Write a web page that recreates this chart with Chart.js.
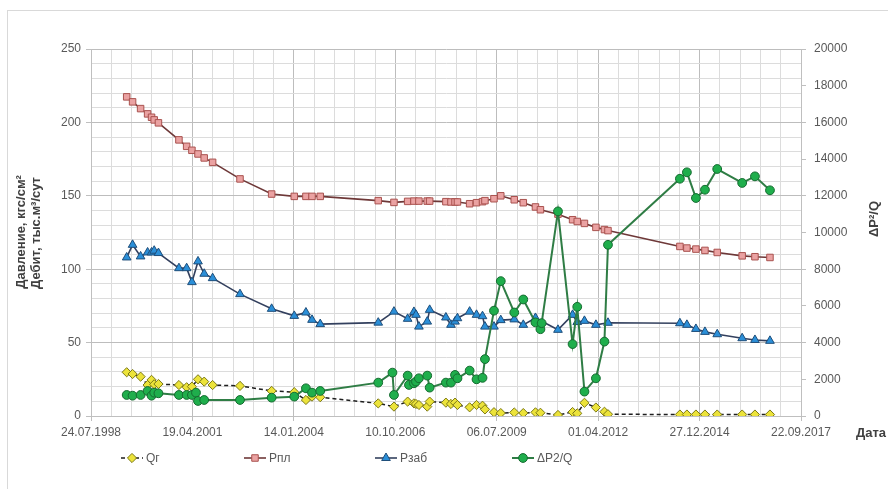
<!DOCTYPE html>
<html lang="ru">
<head>
<meta charset="utf-8">
<title>Давление, дебит и ΔP²/Q</title>
<script src="https://cdn.jsdelivr.net/npm/chart.js@4.4.1/dist/chart.umd.min.js"></script>
<style>
  html, body { margin: 0; padding: 0; background: #fff; }
  #wrap { width: 888px; height: 489px; }
  canvas { display: block; }
</style>
</head>
<body>
<div id="wrap"><canvas id="c" width="888" height="489"></canvas></div>
<script>
// Measurement dates (ISO)
const dates = [
  '1999-07-11','1999-09-07','1999-11-25','2000-02-02','2000-03-12','2000-04-07','2000-05-19','2000-12-07','2001-02-21','2001-04-14',
  '2001-05-24','2001-06-13','2001-08-13','2001-11-04','2002-08-01','2003-06-09','2004-01-18','2004-05-12','2004-07-11','2004-09-30',
  '2006-04-25','2006-09-12','2006-09-27','2007-02-09','2007-02-22','2007-04-12','2007-05-02','2007-05-31','2007-08-21','2007-09-14',
  '2008-02-21','2008-04-11','2008-05-21','2008-06-14','2008-10-12','2008-12-19','2009-02-16','2009-03-12','2009-06-09','2009-08-15',
  '2009-12-26','2010-03-25','2010-07-23','2010-09-10','2010-09-22','2011-03-02','2011-07-24','2011-09-08','2011-11-18','2012-03-10',
  '2012-06-02','2012-07-07','2014-06-16','2014-08-24','2014-11-21','2015-02-18','2015-06-19','2016-02-20','2016-06-25','2016-11-20'
];

// Gas rate Qг, тыс.м³/сут
const qGas = [
  29.8, 28.6, 26.8, 21.1, 24.6, 21.6, 21.8, 21.1, 19.6, 20,
  null, 25, 23.4, 21.1, 20.5, 17.1, 16.2, 10.9, 13.2, 12.8,
  8.6, null, 6.4, 9.8, null, 8.6, 8.2, 7.5, 6.4, 9.8,
  9.1, 8.2, 9.1, 7.5, 5.9, 7.5, 7, 4.5, 2.6, 2,
  2.4, 2, 2.5, 2.2, null, 0.7, 2.7, 1.8, 9, 5.8,
  2.9, 1.2, 1, 1, 1, 1, 1, 1, 1, 1
];

// Reservoir pressure Рпл, кгс/см²
const pPlast = [
  217.4, 214, 209.4, 205.8, 203.5, 201.7, 199.7, 188.1, 183.7, 181,
  null, 178.5, 175.8, 172.8, 161.5, 151.2, 149.6, 149.6, 149.6, 149.6,
  146.7, null, 145.5, 146.2, null, 146.4, null, 146.4, 146.4, 146.4,
  146, 145.8, 145.8, 145.8, 144.6, 145.3, 146, 146.7, 148, 150,
  147.3, 145.3, 142.4, 140.5, null, 137.5, 133.7, 132.5, 131.2, 128.5,
  127, 126.3, 115.5, 114.4, 113.7, 112.8, 111.4, 109.1, 108.5, 108
];

// Bottomhole pressure Рзаб, кгс/см²
const pZab = [
  108, 116.6, 108.7, 111.4, 111.4, 112.6, 111, 100.7, 100.7, 91.2,
  null, 105.3, 96.9, 93.9, 83, 73, 68.2, 70.5, 65.5, 62.6,
  63.6, null, 71.1, 66.2, null, 70.9, 68.9, 60.9, 64.3, 72.3,
  67.1, 62.1, 64.3, 66.6, 71.1, 68.9, 68, 60.9, 60.9, 65.3,
  65.8, 62.1, 66.8, null, null, 58.7, 68.9, 64, 64.8, 62.1,
  null, 63.5, 63.2, 62.1, 59.3, 57.3, 55.7, 53, 51.8, 51.2
];

// ΔP²/Q (right axis)
const dp2q = [
  1146, 1108, 1146, 1364, 1108, 1273, 1237, 1146, 1146, 1146,
  1273, 819, 873, null, 873, 1000, 1055, 1510, 1273, 1364,
  1819, 2364, 1146, 2200, 1692, 1783, 1874, 2055, 2200, 1546,
  1819, 1819, 2237, 2055, 2474, 2000, 2080, 3100, 5740, 7350,
  5640, 6350, 5100, 4730, 5060, 11150, 3920, 5950, 1330, 2055,
  4055, 9330, 12930, 13280, 11880, 12330, 13460, 12700, 13060, 12300
];

// Axis tick labels
const xTickLabels = ['24.07.1998','19.04.2001','14.01.2004','10.10.2006','06.07.2009','01.04.2012','27.12.2014','22.09.2017'];
const yLeftTicks = [0, 50, 100, 150, 200, 250];
const yRightTicks = [0, 2000, 4000, 6000, 8000, 10000, 12000, 14000, 16000, 18000, 20000];

// Dates are plotted as spreadsheet-style day serials (1899-12-30 = 0)
const isoToSerial = s => { const [y, m, d] = s.split('-').map(Number); return Date.UTC(y, m - 1, d) / 86400000 + 25569; };
const ruToSerial = s => { const [d, m, y] = s.split('.').map(Number); return Date.UTC(y, m - 1, d) / 86400000 + 25569; };
const majorX = xTickLabels.map(ruToSerial);
const xs = dates.map(isoToSerial);
const pts = arr => arr.map((v, i) => ({ x: xs[i], y: v }));

const FONT = '"Liberation Sans", Arial, sans-serif';
const TICK_COL = '#595959';
const GRID_MAJOR = '#bdbdbd';
const GRID_MINOR = '#dcdcdc';

const series = [
  { label: 'Qг', data: pts(qGas), yAxisID: 'y', order: 3,
    borderColor: '#1e1e1e', borderWidth: 1.5, borderDash: [4, 3],
    pointStyle: 'rectRot', pointRadius: 4.6, pointBackgroundColor: '#ece33a', pointBorderColor: '#7d7a16', pointBorderWidth: 1 },
  { label: 'Рпл', data: pts(pPlast), yAxisID: 'y', order: 2,
    borderColor: '#6e3838', borderWidth: 1.6,
    pointStyle: 'rect', pointRadius: 4.6, pointBackgroundColor: '#eaa2a2', pointBorderColor: '#a9524f', pointBorderWidth: 1 },
  { label: 'Рзаб', data: pts(pZab), yAxisID: 'y', order: 1,
    borderColor: '#33405e', borderWidth: 1.6,
    pointStyle: 'triangle', pointRadius: 5, pointBackgroundColor: '#2b8fd8', pointBorderColor: '#1f4e7a', pointBorderWidth: 1 },
  { label: 'ΔP2/Q', data: pts(dp2q), yAxisID: 'y2', order: 0,
    borderColor: '#2f7d45', borderWidth: 2,
    pointStyle: 'circle', pointRadius: 4.4, pointBackgroundColor: '#1fae4c', pointBorderColor: '#156b30', pointBorderWidth: 1 }
];

function marker(ctx, style, x, y, r) {
  ctx.beginPath();
  if (style === 'circle') {
    ctx.arc(x, y, r, 0, Math.PI * 2);
  } else if (style === 'rect') {
    const s = Math.SQRT1_2 * r;
    ctx.rect(x - s, y - s, 2 * s, 2 * s);
  } else if (style === 'rectRot') {
    ctx.moveTo(x - r, y); ctx.lineTo(x, y - r); ctx.lineTo(x + r, y); ctx.lineTo(x, y + r);
  } else if (style === 'triangle') {
    let a = 0;
    ctx.moveTo(x + Math.sin(a) * r, y - Math.cos(a) * r);
    a += 2 * Math.PI / 3; ctx.lineTo(x + Math.sin(a) * r, y - Math.cos(a) * r);
    a += 2 * Math.PI / 3; ctx.lineTo(x + Math.sin(a) * r, y - Math.cos(a) * r);
  }
  ctx.closePath();
  ctx.fill();
  ctx.stroke();
}

const decor = {
  id: 'decor',
  beforeDraw(chart) {
    const { ctx, width, height } = chart;
    ctx.save();
    ctx.fillStyle = '#ffffff';
    ctx.fillRect(0, 0, width, height);
    ctx.strokeStyle = '#d9d9d9';
    ctx.lineWidth = 1;
    ctx.strokeRect(7.5, 10.5, width + 10, height + 10);
    ctx.restore();
  },
  afterDraw(chart) {
    const { ctx } = chart;
    ctx.save();
    ctx.fillStyle = '#404040';
    ctx.font = 'bold 13px ' + FONT;
    ctx.textAlign = 'center';
    ctx.textBaseline = 'middle';
    // left axis title, two lines
    ctx.save();
    ctx.translate(21, 232);
    ctx.rotate(-Math.PI / 2);
    ctx.fillText('Давление, кгс/см²', 0, 0);
    ctx.restore();
    ctx.save();
    ctx.translate(36, 233);
    ctx.rotate(-Math.PI / 2);
    ctx.fillText('Дебит, тыс.м³/сут', 0, 0);
    ctx.restore();
    // right axis title
    ctx.save();
    ctx.translate(874, 219);
    ctx.rotate(-Math.PI / 2);
    ctx.fillText('ΔP²/Q', 0, 0);
    ctx.restore();
    // x axis title
    ctx.fillText('Дата', 871, 433);

    // legend
    const legendX = [121, 244, 375, 512];
    const ly = 458;
    ctx.font = '12px ' + FONT;
    ctx.textAlign = 'left';
    series.forEach((s, i) => {
      const x0 = legendX[i];
      ctx.strokeStyle = s.borderColor;
      ctx.lineWidth = s.borderWidth;
      ctx.setLineDash(s.borderDash || []);
      ctx.beginPath();
      ctx.moveTo(x0, ly); ctx.lineTo(x0 + 22, ly);
      ctx.stroke();
      ctx.setLineDash([]);
      ctx.fillStyle = s.pointBackgroundColor;
      ctx.strokeStyle = s.pointBorderColor;
      ctx.lineWidth = 1;
      marker(ctx, s.pointStyle, x0 + 11, ly, s.pointRadius);
      ctx.fillStyle = TICK_COL;
      ctx.fillText(s.label, x0 + 25, ly + 1);
    });
    ctx.restore();
  }
};

new Chart(document.getElementById('c'), {
  type: 'line',
  data: { datasets: series.map(s => Object.assign({ tension: 0, spanGaps: true, fill: false }, s)) },
  options: {
    responsive: false,
    animation: false,
    events: [],
    layout: { padding: { top: 49, left: 0, right: 0, bottom: 0 } },
    plugins: { legend: { display: false }, tooltip: { enabled: false } },
    scales: {
      x: {
        type: 'linear',
        min: majorX[0],
        max: majorX[majorX.length - 1],
        afterFit: s => { s.height = 73; },
        border: { color: '#bfbfbf' },
        grid: {
          color: c => majorX.includes(c.tick.value) ? GRID_MAJOR : GRID_MINOR,
          tickColor: c => majorX.includes(c.tick.value) ? '#bfbfbf' : 'rgba(0,0,0,0)',
          tickLength: 5
        },
        ticks: {
          stepSize: 200,
          autoSkip: false,
          maxRotation: 0,
          minRotation: 0,
          padding: 4,
          color: TICK_COL,
          font: { family: FONT, size: 12 },
          callback: v => { const i = majorX.indexOf(v); return i >= 0 ? xTickLabels[i] : ''; }
        }
      },
      y: {
        position: 'left',
        min: yLeftTicks[0],
        max: yLeftTicks[yLeftTicks.length - 1],
        afterFit: s => { s.width = 91; },
        border: { color: '#bfbfbf' },
        grid: {
          color: c => yLeftTicks.includes(c.tick.value) ? GRID_MAJOR : GRID_MINOR,
          tickColor: c => yLeftTicks.includes(c.tick.value) ? '#bfbfbf' : 'rgba(0,0,0,0)',
          tickLength: 5
        },
        ticks: {
          stepSize: 10,
          autoSkip: false,
          padding: 5,
          color: TICK_COL,
          font: { family: FONT, size: 12 },
          callback: v => yLeftTicks.includes(v) ? String(v) : ''
        }
      },
      y2: {
        position: 'right',
        min: yRightTicks[0],
        max: yRightTicks[yRightTicks.length - 1],
        afterFit: s => { s.width = 87; },
        border: { color: '#bfbfbf' },
        grid: { drawOnChartArea: false, color: '#bfbfbf', tickLength: 5 },
        ticks: {
          stepSize: 2000,
          autoSkip: false,
          padding: 8,
          color: TICK_COL,
          font: { family: FONT, size: 12 },
          callback: v => String(v)
        }
      }
    }
  },
  plugins: [decor]
});
</script>
</body>
</html>
